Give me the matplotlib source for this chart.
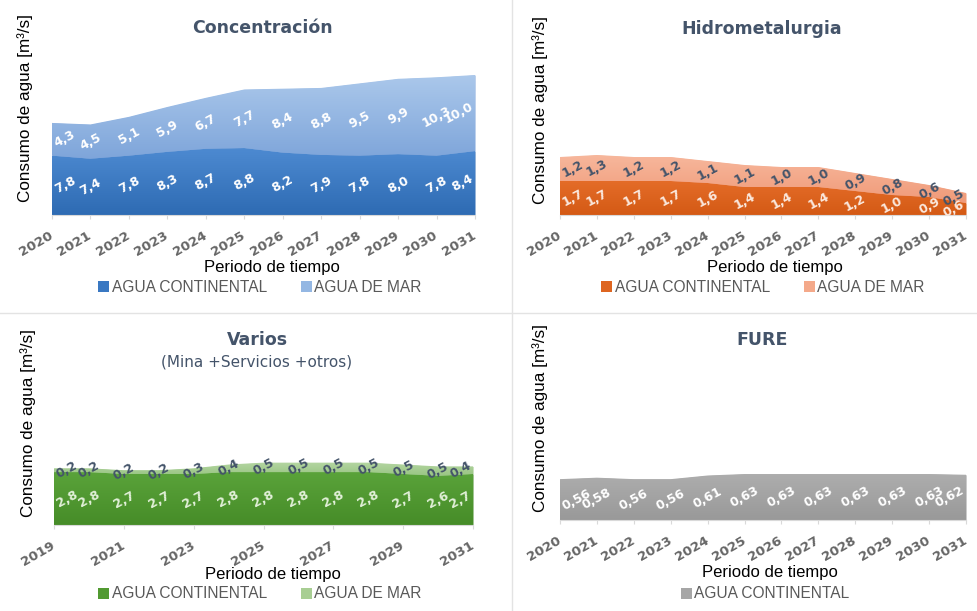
import numpy as np
import matplotlib
matplotlib.use('Agg')
import matplotlib.pyplot as plt
from matplotlib.patches import Patch
from matplotlib.lines import Line2D
from matplotlib.colors import LinearSegmentedColormap

years = list(range(2020, 2032))
years_varios = list(range(2019, 2032))

conc_cont = [7.8, 7.4, 7.8, 8.3, 8.7, 8.8, 8.2, 7.9, 7.8, 8.0, 7.8, 8.4]
conc_mar = [4.3, 4.5, 5.1, 5.9, 6.7, 7.7, 8.4, 8.8, 9.5, 9.9, 10.3, 10.0]

hidro_cont = [1.7, 1.7, 1.7, 1.7, 1.6, 1.4, 1.4, 1.4, 1.2, 1.0, 0.9, 0.6]
hidro_mar = [1.2, 1.3, 1.2, 1.2, 1.1, 1.1, 1.0, 1.0, 0.9, 0.8, 0.6, 0.5]

varios_cont = [2.8, 2.8, 2.7, 2.7, 2.7, 2.8, 2.8, 2.8, 2.8, 2.8, 2.7, 2.6, 2.7]
varios_mar = [0.2, 0.2, 0.2, 0.2, 0.3, 0.4, 0.5, 0.5, 0.5, 0.5, 0.5, 0.5, 0.4]

fure_cont = [0.56, 0.58, 0.56, 0.56, 0.61, 0.63, 0.63, 0.63, 0.63, 0.63, 0.63, 0.62]

W, H = 978, 611
fig = plt.figure(figsize=(W / 100, H / 100), dpi=100)

GRAY = '#595959'
TITLE = '#44546A'
SANS = 'Liberation Sans'


def px_axes(x0, y0, x1, y1):
    return fig.add_axes([x0 / W, 1 - y1 / H, (x1 - x0) / W, (y1 - y0) / H])


def grad_fill(ax, x, lo, hi, c_top, c_bot):
    poly = ax.fill_between(x, lo, hi, color=c_bot, lw=0)
    cmap = LinearSegmentedColormap.from_list('g', [c_bot, c_top])
    g = np.linspace(0, 1, 256).reshape(-1, 1)
    im = ax.imshow(g, extent=[x[0], x[-1], min(lo), max(hi)], origin='lower',
                   aspect='auto', cmap=cmap, zorder=2)
    im.set_clip_path(poly.get_paths()[0], ax.transData)


def fmt(v, nd):
    return f'{v:.{nd}f}'.replace('.', ',')


def labels(ax, x, lo, hi, vals, color, nd=1):
    n = len(x)
    for i in range(n):
        ha = 'left' if i == 0 else ('right' if i == n - 1 else 'center')
        ax.text(x[i], (lo[i] + hi[i]) / 2, fmt(vals[i], nd), rotation=28,
                ha=ha, va='center', fontsize=9, fontweight='bold',
                color=color, zorder=5)


def style(ax, x, ticks, ymax):
    ax.set_xlim(x[0], x[-1])
    ax.set_ylim(0, ymax)
    ax.set_xticks(ticks)
    ax.set_xticklabels([str(t) for t in ticks], rotation=30, ha='right',
                       va='center', rotation_mode='anchor', fontsize=9.5,
                       fontweight='bold', color='#666666')
    ax.set_yticks([])
    for s in ['top', 'right', 'left']:
        ax.spines[s].set_visible(False)
    ax.spines['bottom'].set_color('#D9D9D9')
    ax.tick_params(axis='x', length=3, color='#D9D9D9', pad=11)
    ax.patch.set_alpha(0)


def panel(box, x, ticks, ymax, cont, mar, cols, lab_cols, nd=1):
    ax = px_axes(*box)
    zero = [0] * len(x)
    grad_fill(ax, x, zero, cont, cols[0], cols[1])
    labels(ax, x, zero, cont, cont, lab_cols[0], nd)
    if mar is not None:
        tot = [a + b for a, b in zip(cont, mar)]
        grad_fill(ax, x, cont, tot, cols[2], cols[3])
        labels(ax, x, cont, tot, mar, lab_cols[1], nd)
    style(ax, x, ticks, ymax)
    return ax


panel((52, 40, 475, 215), years, years, 23.0, conc_cont, conc_mar,
      ['#4D8AD1', '#2E6BB3', '#ABC8EB', '#7EA5DA'], ['white', 'white'])
panel((560, 40, 966, 215), years, years, 8.75, hidro_cont, hidro_mar,
      ['#E46C28', '#D45A15', '#F7B79C', '#F09A78'], ['#FBE9DE', '#44546A'])
panel((54, 350, 473, 525), years_varios, years_varios[::2], 9.26,
      varios_cont, varios_mar,
      ['#5AA33A', '#468C28', '#B5D6A2', '#98C583'], ['#E2F0D9', '#44546A'])
panel((560, 350, 966, 520), years, years, 2.33, fure_cont, None,
      ['#ADADAD', '#999999'], ['white'], nd=2)

# titles
fig.text(262 / W, 1 - 28 / H, 'Concentración', ha='center', va='center',
         fontsize=12.5, fontweight='bold', color=TITLE)
fig.text(762 / W, 1 - 29 / H, 'Hidrometalurgia', ha='center', va='center',
         fontsize=12.5, fontweight='bold', color=TITLE)
fig.text(257 / W, 1 - 340 / H, 'Varios', ha='center', va='center',
         fontsize=12.5, fontweight='bold', color=TITLE)
fig.text(257 / W, 1 - 362 / H, '(Mina +Servicios +otros)', ha='center',
         va='center', fontsize=11, color=TITLE)
fig.text(762 / W, 1 - 340 / H, 'FURE', ha='center', va='center',
         fontsize=12.5, fontweight='bold', color=TITLE)

# axis labels
for x, y in [(25, 108), (540, 110), (28, 423), (540, 418)]:
    fig.text(x / W, 1 - y / H, 'Consumo de agua [m³/s]', rotation=90,
             ha='center', va='center', fontsize=12.3, family=SANS)
for x, y in [(272, 267), (775, 267), (273, 575), (770, 573)]:
    fig.text(x / W, 1 - y / H, 'Periodo de tiempo', ha='center',
             va='center', fontsize=12, family=SANS)

# legends
leg_sets = [
    ((260, 287), [('#3A78C2', 'AGUA CONTINENTAL'), ('#94B7E3', 'AGUA DE MAR')]),
    ((763, 287), [('#DE6520', 'AGUA CONTINENTAL'), ('#F4A98A', 'AGUA DE MAR')]),
    ((260, 594), [('#519A31', 'AGUA CONTINENTAL'), ('#A8CE93', 'AGUA DE MAR')]),
    ((765, 594), [('#A6A6A6', 'AGUA CONTINENTAL')]),
]
for (cx, cy), items in leg_sets:
    handles = [Patch(facecolor=c, edgecolor='none', label=l) for c, l in items]
    fig.legend(handles=handles, loc='center', bbox_to_anchor=(cx / W, 1 - cy / H),
               ncol=len(items), frameon=False, handlelength=0.7, handleheight=0.7,
               handletextpad=0.15, columnspacing=2.2, labelcolor=GRAY,
               prop={'family': SANS, 'size': 11.2})

# panel separators
fig.add_artist(Line2D([512 / W, 512 / W], [0, 1], color='#E3E3E3', lw=1))
fig.add_artist(Line2D([0, 1], [1 - 313 / H, 1 - 313 / H], color='#E3E3E3', lw=1))

fig.savefig('out.png', dpi=100)
